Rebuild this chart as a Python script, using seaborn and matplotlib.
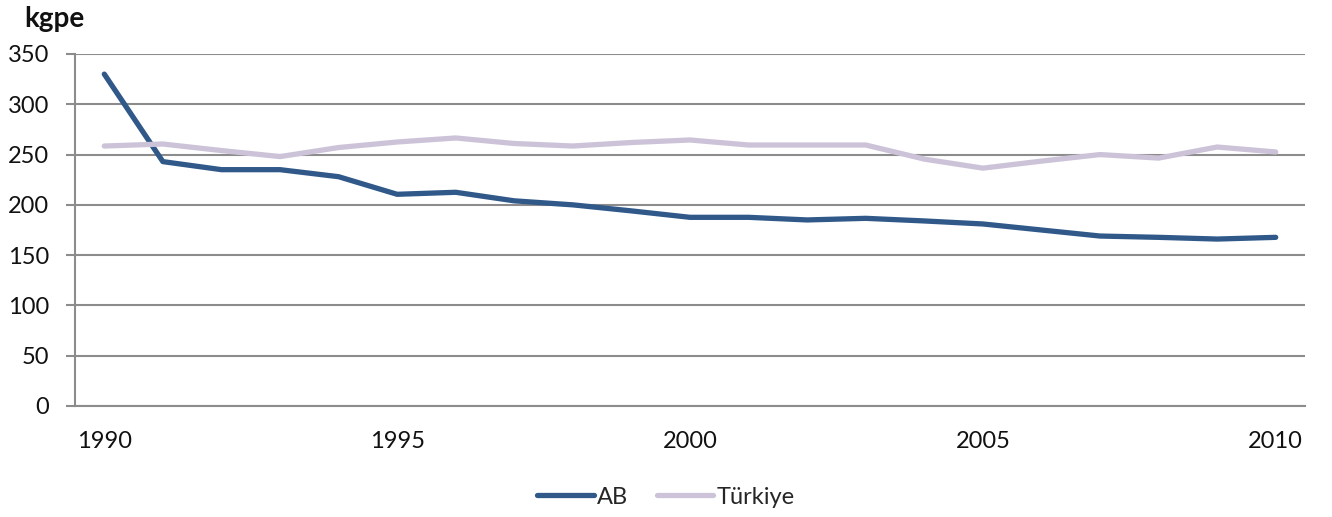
import numpy as np
import pandas as pd
import matplotlib
matplotlib.use("Agg")
import matplotlib.pyplot as plt
import seaborn as sns
from matplotlib.ticker import FixedLocator

years = list(range(1990, 2011))
ab = [330, 243, 235, 235, 228, 210.5, 212.5, 204, 200, 194, 187.6, 187.6, 185, 186.6,
      184, 181, 175, 169, 167.7, 166, 167.7]
turkiye = [258.5, 260.5, 254, 248, 257, 262.5, 266.5, 261, 258.5, 262, 264.5, 259.5,
           259.5, 259.5, 245.5, 236.5, 243.5, 250, 246.5, 257.5, 252.6]
series_names = ["AB", "Türkiye"]
colors = ["#30598A", "#CCC3D9"]
y_ticks = [0, 50, 100, 150, 200, 250, 300, 350]
x_labels = [1990, 1995, 2000, 2005, 2010]

df = pd.DataFrame({"Yıl": years * 2,
                   "Değer": ab + turkiye,
                   "Seri": [series_names[0]] * len(years) + [series_names[1]] * len(years)})

sns.set_theme(style="white")
plt.rcParams["font.family"] = ["Lato", "DejaVu Sans"]

fig = plt.figure(figsize=(13.32, 5.17), dpi=100)
ax = fig.add_axes([75 / 1332, 1 - 406 / 517, 1230 / 1332, 352 / 517])

sns.lineplot(data=df, x="Yıl", y="Değer", hue="Seri", palette=colors,
             linewidth=3.8, ax=ax, legend=False, solid_capstyle="round", zorder=3)

grid_c = "#8C8C8C"
ax.set_xlim(1989.5, 2010.5)
ax.set_ylim(0, 350)
ax.set_yticks(y_ticks)
ax.set_yticklabels([str(v) for v in y_ticks], fontsize=17, color="#111111")
ax.yaxis.grid(True, color=grid_c, linewidth=1.5, zorder=0)
ax.xaxis.grid(False)
ax.set_xticks(x_labels)
ax.set_xticklabels([str(v) for v in x_labels], fontsize=17, color="#111111")
ax.xaxis.set_minor_locator(FixedLocator(np.arange(1989.5, 2011, 1.0)))
ax.tick_params(axis="x", which="major", length=0, pad=18)
ax.tick_params(axis="x", which="minor", length=5.5, width=1.5, color=grid_c, direction="out")
ax.tick_params(axis="y", which="major", length=6.5, width=1.5, color=grid_c, pad=12,
               direction="out", left=True)
ax.set_xlabel("")
ax.set_ylabel("")
for side in ["top", "right"]:
    ax.spines[side].set_visible(False)
for side in ["left", "bottom"]:
    ax.spines[side].set_color(grid_c)
    ax.spines[side].set_linewidth(1.5)

fig.text(24 / 1332, 1 - 27 / 517, "kgpe", fontsize=20, fontweight="bold",
         ha="left", va="baseline", color="#111111")

handles = [plt.Line2D([], [], color=c, linewidth=3.8, solid_capstyle="round") for c in colors]
fig.legend(handles, series_names, loc="center", bbox_to_anchor=(0.5, 1 - 497 / 517),
           ncol=2, frameon=False, fontsize=17, handlelength=2.4, handletextpad=0.15,
           columnspacing=1.2)

fig.savefig("out.png", dpi=100, facecolor="white")
